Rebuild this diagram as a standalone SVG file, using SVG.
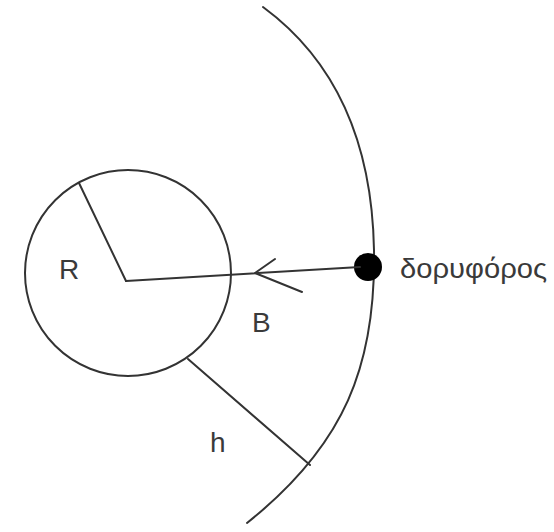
<svg xmlns="http://www.w3.org/2000/svg" width="554" height="532" viewBox="0 0 554 532">
<style>
.ln{fill:none;stroke:#333;stroke-width:2;stroke-linecap:round;stroke-linejoin:round}
.tx{font-family:"Liberation Sans",Arial,sans-serif;font-size:28px;fill:#3a3a3a}
</style>
<rect width="554" height="532" fill="#fff"/>
<g id="earth">
<circle class="ln" cx="128" cy="273" r="103"/>
<text class="tx" x="59" y="279">R</text>
</g>
<g id="orbit">
<path class="ln" d="M263,7 C335,60 372,140 374,250 C376,365 345,445 247,523"/>
</g>
<g id="satellite">
<circle cx="368" cy="267" r="14" fill="#000"/>
<text class="tx" x="400" y="278" textLength="147" lengthAdjust="spacingAndGlyphs">δορυφόρος</text>
</g>
<g id="labels">
<text class="tx" x="252" y="332">B</text>
<text class="tx" x="210" y="452">h</text>
</g>
<g id="connectors">
<line class="ln" x1="126" y1="281" x2="79" y2="183"/>
<line class="ln" x1="126" y1="281" x2="360" y2="267"/>
<polyline class="ln" points="275,259 255,273 302,292"/>
<line class="ln" x1="188" y1="359" x2="310" y2="465"/>
</g>
</svg>
